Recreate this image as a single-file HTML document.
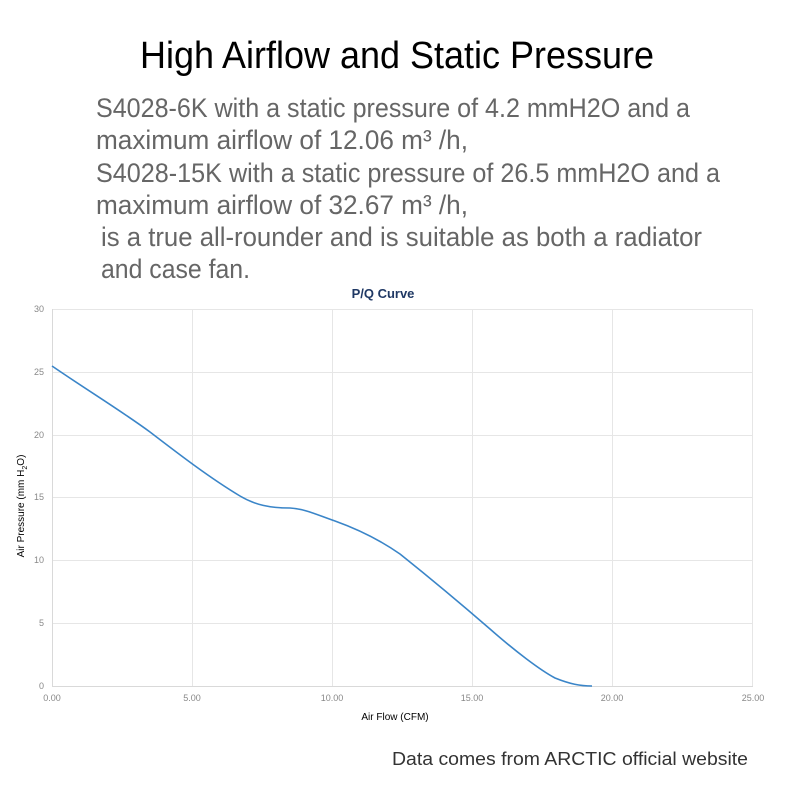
<!DOCTYPE html>
<html><head><meta charset="utf-8"><style>
html,body{margin:0;padding:0;background:#fff;}
svg{display:block;}
</style></head><body>
<svg width="790" height="788" viewBox="0 0 790 788" xmlns="http://www.w3.org/2000/svg" font-family="Liberation Sans, sans-serif">
<text x="140" y="68" font-size="38" fill="#000" textLength="514" lengthAdjust="spacingAndGlyphs">High Airflow and Static Pressure</text>
<g font-size="27" fill="#666">
<text x="96" y="117" textLength="594" lengthAdjust="spacingAndGlyphs">S4028-6K with a static pressure of 4.2 mmH2O and a</text>
<text x="96" y="149" textLength="372" lengthAdjust="spacingAndGlyphs">maximum airflow of 12.06 m³ /h,</text>
<text x="96" y="182" textLength="624" lengthAdjust="spacingAndGlyphs">S4028-15K with a static pressure of 26.5 mmH2O and a</text>
<text x="96" y="214" textLength="372" lengthAdjust="spacingAndGlyphs">maximum airflow of 32.67 m³ /h,</text>
<text x="101" y="246" textLength="601" lengthAdjust="spacingAndGlyphs">is a true all-rounder and is suitable as both a radiator</text>
<text x="101" y="278" textLength="149" lengthAdjust="spacingAndGlyphs">and case fan.</text>
</g>
<text x="383" y="298" font-size="13" fill="#1f3864" text-anchor="middle" font-weight="bold">P/Q Curve</text>
<g stroke="#e6e6e6" stroke-width="1">
<line x1="52" y1="309.5" x2="753" y2="309.5"/>
<line x1="52" y1="372.5" x2="753" y2="372.5"/>
<line x1="52" y1="435.5" x2="753" y2="435.5"/>
<line x1="52" y1="497.5" x2="753" y2="497.5"/>
<line x1="52" y1="560.5" x2="753" y2="560.5"/>
<line x1="52" y1="623.5" x2="753" y2="623.5"/>
<line x1="192.5" y1="309" x2="192.5" y2="686"/>
<line x1="332.5" y1="309" x2="332.5" y2="686"/>
<line x1="472.5" y1="309" x2="472.5" y2="686"/>
<line x1="612.5" y1="309" x2="612.5" y2="686"/>
<line x1="752.5" y1="309" x2="752.5" y2="686"/>
</g>
<line x1="52" y1="686.5" x2="753" y2="686.5" stroke="#d9d9d9"/>
<line x1="52.5" y1="309" x2="52.5" y2="686" stroke="#d9d9d9"/>
<g font-size="9" fill="#888" text-anchor="end">
<text x="44" y="312">30</text><text x="44" y="375">25</text><text x="44" y="438">20</text>
<text x="44" y="500">15</text><text x="44" y="563">10</text><text x="44" y="626">5</text><text x="44" y="689">0</text>
</g>
<g font-size="9" fill="#888" text-anchor="middle">
<text x="52" y="701">0.00</text><text x="192" y="701">5.00</text><text x="332" y="701">10.00</text>
<text x="472" y="701">15.00</text><text x="612" y="701">20.00</text><text x="753" y="701">25.00</text>
</g>
<text x="395" y="720" font-size="10" fill="#000" text-anchor="middle">Air Flow (CFM)</text>
<text transform="translate(24,506) rotate(-90)" font-size="10" fill="#000" text-anchor="middle">Air Pressure (mm H<tspan font-size="7" dy="3">2</tspan><tspan dy="-3">O)</tspan></text>
<path d="M52,366 C90,392 120,410 150,432 C180,455 210,478 240,496 C255,505 270,508 290,508 C305,509 315,514 335,521 C360,530 380,540 400,554 C430,578 460,603 490,629 C515,651 540,670 555,678 C570,684 580,686 592,686" fill="none" stroke="#3a85c8" stroke-width="1.6"/>
<text x="392" y="765" font-size="18" fill="#333" textLength="356" lengthAdjust="spacingAndGlyphs">Data comes from ARCTIC official website</text>
</svg>
</body></html>
